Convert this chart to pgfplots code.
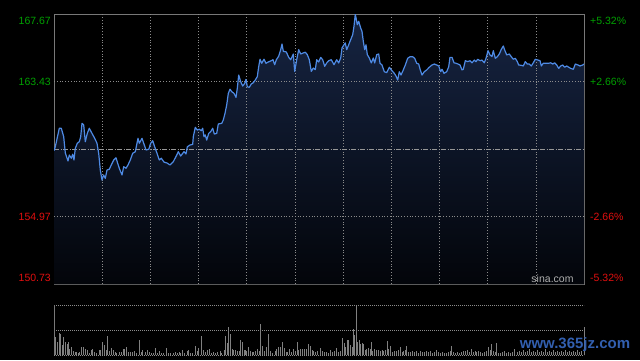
\documentclass[border=0pt]{standalone}
\usepackage{pgfplots}
\pgfplotsset{compat=1.18}
\usepackage{pgfplotstable}
\usepgfplotslibrary{fillbetween}
\usepackage{fontspec}
\setmainfont{Liberation Sans}
\definecolor{pline}{RGB}{78,138,228}
\definecolor{fillTop}{RGB}{22,36,66}
\definecolor{fillBot}{RGB}{3,5,10}
\definecolor{bord}{RGB}{120,120,120}
\definecolor{gridc}{RGB}{140,140,140}
\definecolor{upg}{RGB}{0,160,0}
\definecolor{dnr}{RGB}{225,15,15}
\definecolor{volc}{RGB}{128,128,128}
\definecolor{wm}{RGB}{50,95,175}

\pgfplotstableread{
x p
0 159.10
1.3 159.34
5.3 160.50
7.3 160.50
9.7 159.97
11.3 158.95
14 158.45
15.3 158.82
17.3 158.62
18.7 158.87
20 158.51
21.3 159.24
23.3 159.56
25.3 159.66
26.7 159.97
28 160.81
29.7 160.71
31.3 159.66
33.3 160.18
35.3 160.50
38 160.18
40.7 159.87
43 159.56
44.7 158.93
46.3 157.88
48 157.25
49.7 157.57
51.3 157.36
53 157.88
55.3 157.93
57.3 158.20
59.7 158.51
62 158.65
63.7 158.30
65.3 157.99
68 157.57
69.7 158.09
72 157.99
74 158.20
76.3 158.51
78.7 158.93
81.3 159.03
84 159.87
85.3 159.56
88 159.87
89.7 159.56
92 159.14
94.7 159.18
96.7 159.56
98.7 159.72
100.7 159.34
103 158.93
105.3 158.51
107.3 158.62
110 158.38
113 158.32
116 158.20
119.3 158.40
122.7 158.82
124.3 159.03
126.7 158.76
128.7 158.93
130 159.03
132 158.89
133.3 159.34
136 159.45
138.7 159.49
139.3 159.97
141.3 160.56
143.3 160.39
145.3 160.44
147.3 160.35
148.7 160.50
150 159.97
151.3 160.08
152.7 159.76
154.7 160.18
156.7 160.29
158.7 160.50
160.3 160.14
162.7 160.18
164.3 160.77
167.7 160.81
169.3 161.02
171 161.44
172.7 161.96
174.3 162.69
176 162.95
177.7 162.80
180 162.69
182 162.44
183.3 163.01
184.7 163.84
186.7 163.42
188.7 163.15
190.7 163.32
192 163.57
193.3 163.11
195.3 163.07
197.3 163.28
199.3 163.36
201.3 163.53
203.3 163.74
204.7 164.36
206 164.83
207.7 164.58
210 164.83
212 164.58
214.3 164.66
217.3 164.74
219 164.80
220.7 164.49
222.3 164.80
224.7 165.02
226.7 165.43
228 165.79
229.3 165.33
232.3 165.29
234.7 164.95
236.7 164.80
239.3 165.16
240.7 164.07
242.7 164.80
244.7 165.43
246.7 165.16
249 165.22
251.3 165.27
253.3 165.12
255.3 164.80
257.3 164.07
259.3 164.28
261.3 164.18
262.7 164.80
264.7 164.66
266.7 164.95
268.7 164.80
270.7 164.39
272.7 164.60
274.7 164.74
277.3 164.80
280 164.49
282.7 164.80
284.7 164.60
286.7 164.91
288 165.54
290 165.74
291.3 165.85
292.7 165.43
294.7 165.74
296.7 166.06
298.7 166.37
300 166.90
301.3 167.67
303.3 167.00
304.7 167.21
306.7 166.79
308 166.58
309.3 165.96
310.7 165.43
312 165.74
313.3 165.12
315.3 164.91
317.3 164.60
319.3 164.91
320.7 164.60
322.7 165.12
324.7 165.16
326 164.58
328 164.47
330.3 164.05
332.7 163.99
335.3 164.33
338 164.11
340.3 163.95
342 163.78
343.7 163.53
345.3 164.05
347 163.84
349.3 164.16
351.3 164.47
353.7 164.89
356 164.99
358.7 164.99
360.7 164.89
362.7 164.58
364.7 164.53
366.3 164.16
368 163.84
370.3 164.05
372.7 164.16
375.3 164.33
378 164.47
380.3 164.53
382.7 164.47
384.7 164.41
386.7 164.05
388 164.20
390 163.95
392.7 164.05
394.7 164.36
396 164.95
398 164.95
400 164.61
402 164.58
404 164.53
406 164.47
408 164.16
409.3 164.20
411.3 164.74
413.7 164.68
416 164.74
418 164.61
420.3 164.78
422 164.68
423.7 164.83
426 164.74
428 164.78
430.3 164.61
432 164.89
434 165.37
436 165.10
438 165.00
439.3 165.37
441.3 164.89
443.3 164.99
445.3 165.16
447.3 165.45
449.3 165.66
450.7 165.41
452.7 165.10
455.3 165.16
457.3 164.99
459.3 164.83
461.3 164.89
463.3 164.68
464.7 164.47
467.3 164.45
469.3 164.41
471.3 164.68
473.3 164.53
475.3 164.53
477.3 164.41
479.3 164.61
481.3 164.83
484 164.78
486 164.74
487.3 164.41
489.3 164.58
492 164.58
494.7 164.58
496.7 164.61
498.7 164.53
500.7 164.61
502.7 164.47
504.7 164.26
506.7 164.41
508.7 164.47
510.7 164.33
512.7 164.41
514.7 164.33
516.7 164.26
519.3 164.20
521.3 164.53
524 164.47
526 164.41
528.7 164.47
530 164.53
}\price

\pgfplotstableread{
x v
1.0 18
3.3 13
5.3 22
6.3 21
8.3 10
9.3 18
11.3 13
13.3 11
14.3 13
15.3 6
17 8
19.3 4
21.3 3
22.3 3
24.3 2
25.3 3
27.3 8
29.3 8
31.3 6
33.3 5
35.3 2
37.3 5
38.7 6
40.7 3
42 2
45.3 5
46.7 5
48.3 13
50 10
52 5
53.3 19
55.3 4
57 7
59.3 5
61.3 3
62.7 2
65.3 3
67.3 3
69.3 6
70.7 6
72.3 8
74.3 3
76.7 3
78.3 3
80.3 4
82.7 2
85.3 15
87 3
88.7 5
91 3
93.3 5
95.3 3
97.3 2
99.3 2
101.3 7
103.3 2
105.3 4
107.3 2
109.3 2
112 7
114 2
116.7 2
119.3 2
121.3 3
123.3 2
125.3 3
126.7 2
128.7 5
130.7 2
133.3 4
134.7 5
136.7 2
138.7 2
141.3 9
143.3 4
144.7 7
147.3 19
149.3 5
151.3 3
153.3 5
155.3 6
157.3 2
159.3 3
161.3 2
163.3 3
166 4
167.3 2
170 5
171.3 19
173 12
174.3 28
176 21
178 6
179.3 5
181.3 5
183.3 4
185.3 4
186.7 15
188.3 13
190 5
191.3 5
192.7 4
194.7 8
196 4
198 3
199.3 3
201.3 4
203.3 6
205.3 4
206.7 31
208.7 9
210 4
212 8
214 21
216 4
218.7 2
221.3 4
222.7 6
224.7 8
226 8
228 13
230 7
232 3
233.3 3
235.3 6
237.3 3
239.3 6
241.3 4
243 13
244.7 5
246 6
248 6
250 6
252 6
254 11
256 9
258 5
259.3 4
261.3 3
263.3 4
266 7
268 4
270 3
272 3
274 2
276 5
278 3
280 4
282 7
284 3
286 4
288 17
290 12
291.3 8
293.3 15
294.7 15
296 10
298 8
299.3 26
300.7 20
302 49
303.3 13
305.3 15
306.7 11
308 12
309.3 11
311.3 5
312.7 6
314.7 7
316 6
317.3 13
318.7 4
320.7 6
322.7 5
324.7 5
326 4
328 5
329.3 4
331.3 5
333.3 14
334.7 6
336.7 9
338.7 3
340.7 4
342.7 4
344.7 5
346 8
348 3
349.3 4
351.3 5
352.7 9
354.7 3
356.7 3
358.7 4
360.7 3
362.7 4
364.7 2
366.7 4
368.7 3
370.7 3
372.7 4
374.7 3
376.7 4
378.7 2
380.7 3
382 5
384 3
386 2
388 3
390 2
392 2
394 3
396 4
397.3 9
399.3 3
401.3 2
403.3 3
405.3 2
407.3 3
409.3 4
411.3 4
413.3 5
415.3 3
417.3 6
419.3 3
421.3 4
422.7 3
424.7 4
426.7 3
428.7 2
430.7 3
432.7 4
434 8
436 5
437.3 11
439.3 4
441.3 3
442.7 12
444.7 2
446.7 2
448.7 3
450.7 4
452.7 2
454.7 3
456.7 2
458.7 3
460.7 6
463 3
465 4
467 3
469 5
471 3
473 4
475 6
477 3
479 4
481 3
483 5
485 3
487 4
489 3
491 6
493 3
495 4
497 3
499 5
501 3
503 4
505 3
507 4
509 3
511 5
513 3
515 4
517 3
519 4
521 3
523 5
525 3
527 4
530 28
}\vol

\pagecolor{black}
\begin{document}
\begin{tikzpicture}
\path (0,0) rectangle (640pt,360pt);

\begin{axis}[
  at={(54pt,76pt)}, anchor=south west,
  width=530pt, height=270pt, scale only axis,
  xmin=0, xmax=530, ymin=150.73, ymax=167.67,
  ticks=none,
  axis line style={draw=bord, line width=0.8pt},
]
\addplot[name path=P, draw=none] table[x=x,y=p] {\price};
\addplot[name path=B, draw=none] coordinates {(0,150.73) (530,150.73)};
\addplot[top color=fillTop, bottom color=fillBot, draw=none] fill between[of=P and B];
\pgfplotsinvokeforeach{48.18,96.36,144.55,192.73,240.91,289.09,337.27,385.45,433.64,481.82}{
  \draw[gridc, line width=0.6pt, dash pattern=on 0.8pt off 2pt] (axis cs:#1,150.73) -- (axis cs:#1,167.67);
}
\draw[gridc, line width=0.6pt, dash pattern=on 0.8pt off 2pt] (axis cs:0,163.43) -- (axis cs:530,163.43);
\draw[gridc, line width=0.6pt, dash pattern=on 0.8pt off 2pt] (axis cs:0,154.97) -- (axis cs:530,154.97);
\draw[gridc!90!white, line width=0.7pt, dash pattern=on 5pt off 1.5pt on 1pt off 1.5pt] (axis cs:0,159.20) -- (axis cs:530,159.20);
\addplot[pline, line width=1.2pt, line join=round] table[x=x,y=p] {\price};
\end{axis}

\begin{axis}[
  at={(54pt,5pt)}, anchor=south west,
  width=530pt, height=50pt, scale only axis,
  xmin=0, xmax=530, ymin=0, ymax=50,
  axis lines=none, ticks=none, clip=false,
]
\draw[gridc, line width=0.9pt, dash pattern=on 0.8pt off 1.2pt] (axis cs:0,50) -- (axis cs:530,50);
\draw[gridc, line width=0.9pt, dash pattern=on 0.8pt off 1.2pt] (axis cs:0,25) -- (axis cs:530,25);
\draw[gridc, line width=0.9pt, dash pattern=on 0.8pt off 1.2pt] (axis cs:0,0) -- (axis cs:530,0);
\draw[bord, line width=0.8pt] (axis cs:0,0) -- (axis cs:0,50);
\addplot[ycomb, volc, line width=0.9pt, mark=none] table[x=x,y=v] {\vol};
\end{axis}

\begin{scope}[every node/.style={inner sep=0pt, font=\fontsize{10.5}{12}\selectfont}]
\node[anchor=east, text=upg] at (51pt,339.5pt) {167.67};
\node[anchor=east, text=upg] at (51pt,278pt) {163.43};
\node[anchor=east, text=dnr] at (51pt,143pt) {154.97};
\node[anchor=east, text=dnr] at (51pt,82.3pt) {150.73};
\node[anchor=west, text=upg] at (590pt,339.5pt) {+5.32\%};
\node[anchor=west, text=upg] at (590pt,278pt) {+2.66\%};
\node[anchor=west, text=dnr] at (590pt,143pt) {-2.66\%};
\node[anchor=west, text=dnr] at (590pt,82.3pt) {-5.32\%};
\node[text={rgb,255:red,175;green,175;blue,175}] at (552.5pt,81pt) {sina.com};
\node[text=wm, font=\fontsize{15}{17}\bfseries] at (575pt,15pt) {www.365jz.com};
\end{scope}
\end{tikzpicture}
\end{document}
